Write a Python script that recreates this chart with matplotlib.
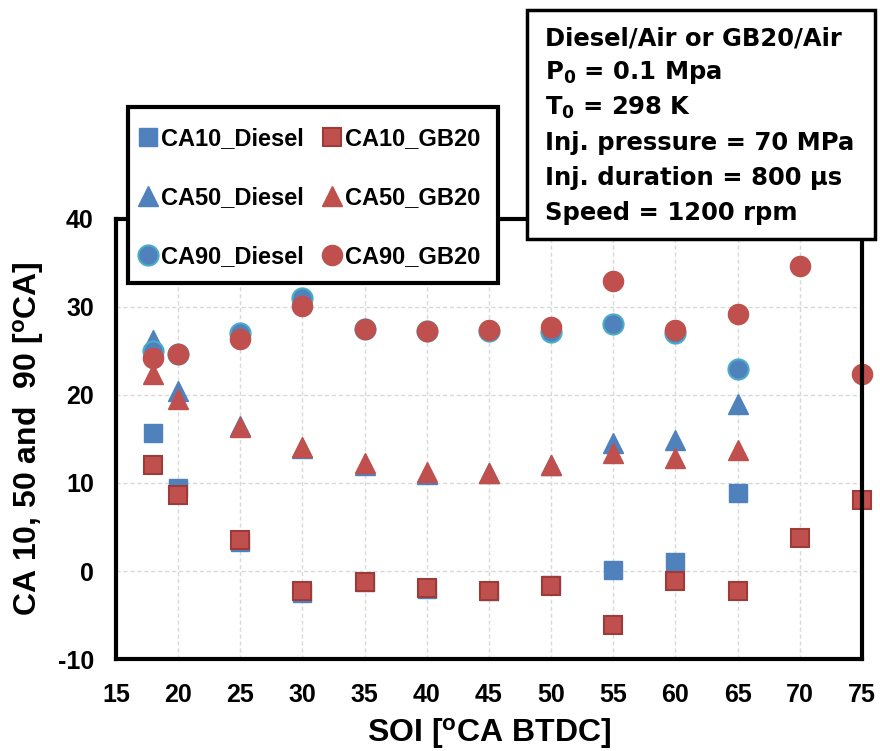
import matplotlib
matplotlib.use("Agg")
import matplotlib.pyplot as plt
from matplotlib.patches import Rectangle

plt.rcParams["font.family"] = ["Liberation Sans", "DejaVu Sans"]
plt.rcParams["font.weight"] = "bold"
plt.rcParams["mathtext.default"] = "regular"
plt.rcParams["axes.unicode_minus"] = False

# SOI [oCA BTDC]
soi_diesel = [18, 20, 25, 30, 35, 40, 45, 50, 55, 60, 65]
soi_gb20 = [18, 20, 25, 30, 35, 40, 45, 50, 55, 60, 65, 70, 75]
soi_ca50_gb20 = [18, 20, 25, 30, 35, 40, 45, 50, 55, 60, 65]

ca10_diesel = [15.7, 9.4, 3.3, -2.5, -1.2, -2.0, -2.3, -1.6, 0.1, 1.0, 8.9]
ca10_gb20 = [12.1, 8.6, 3.5, -2.3, -1.2, -1.9, -2.3, -1.7, -6.1, -1.1, -2.3, 3.7, 8.1]

ca50_diesel = [26.3, 20.5, 16.5, 14.0, 12.1, 11.0, 11.1, 12.0, 14.6, 14.9, 19.0]
ca50_gb20 = [22.4, 19.6, 16.4, 14.1, 12.3, 11.2, 11.1, 12.1, 13.4, 12.8, 13.7]

ca90_diesel = [25.0, 24.7, 27.0, 31.0, 27.5, 27.3, 27.3, 27.2, 28.1, 27.0, 23.0]
ca90_gb20 = [24.2, 24.7, 26.4, 30.1, 27.5, 27.3, 27.4, 27.7, 33.0, 27.4, 29.2, 34.7, 22.4]

info = ["Diesel/Air or GB20/Air", "P$_0$ = 0.1 Mpa", "T$_0$ = 298 K",
        "Inj. pressure = 70 MPa", "Inj. duration = 800 \u00b5s", "Speed = 1200 rpm"]

BLUE = "#4F81BD"
RED = "#C0504D"

fig = plt.figure(figsize=(8.8, 7.51), dpi=100)
ax = fig.add_axes([0.1318, 0.1225, 0.8477, 0.5859])

s10d, = ax.plot(soi_diesel, ca10_diesel, "s", ms=13.5, color=BLUE, mec=BLUE, mew=1, label="CA10_Diesel")
s10g, = ax.plot(soi_gb20, ca10_gb20, "s", ms=13.5, color=RED, mec="#9E3B38", mew=1.5, label="CA10_GB20")
s50d, = ax.plot(soi_diesel, ca50_diesel, "^", ms=15, color=BLUE, mec=BLUE, mew=1, label="CA50_Diesel")
s50g, = ax.plot(soi_ca50_gb20, ca50_gb20, "^", ms=15, color=RED, mec=RED, mew=1, label="CA50_GB20")
s90d, = ax.plot(soi_diesel, ca90_diesel, "o", ms=14.5, color=BLUE, mec="#4BACC6", mew=1.5, label="CA90_Diesel")
s90g, = ax.plot(soi_gb20, ca90_gb20, "o", ms=14.5, color=RED, mec=RED, mew=1, label="CA90_GB20")
for ln in (s10d, s10g, s50d, s50g, s90d, s90g):
    ln.set_clip_on(False)

ax.set_xlim(15, 75)
ax.set_ylim(-10, 40)
ax.set_xticks(range(15, 76, 5))
ax.set_yticks(range(-10, 41, 10))
ax.tick_params(length=0, labelsize=18)
ax.tick_params(axis="y", pad=16)
ax.tick_params(axis="x", pad=17)
for lab in ax.get_xticklabels() + ax.get_yticklabels():
    lab.set_fontweight("bold")
ax.grid(True, color="#D9D9D9", linestyle=(0, (3, 2)), linewidth=1)
ax.set_axisbelow(True)
for sp in ax.spines.values():
    sp.set_linewidth(3)
    sp.set_color("black")

ax.set_xlabel("SOI [$^o$CA BTDC]", fontsize=23, fontweight="bold", labelpad=7)
ax.set_ylabel("CA 10, 50 and  90 [$^o$CA]", fontsize=23, fontweight="bold", labelpad=8)

# legend frame drawn by hand so the padding can differ in x and y
fig.patches.append(Rectangle((128 / 880, 1 - 283 / 751), (498 - 128) / 880, (283 - 107) / 751,
                             transform=fig.transFigure, fc="white", ec="black", lw=3, zorder=10))
leg = fig.legend(
    handles=[s10d, s50d, s90d, s10g, s50g, s90g],
    ncol=2, loc="upper left",
    bbox_to_anchor=(141 / 880, 1 - 127 / 751),
    prop={"size": 17, "weight": "bold"},
    handlelength=0.6, handletextpad=0.25, columnspacing=0.9,
    labelspacing=1.52, borderpad=0, borderaxespad=0, frameon=False,
)
leg.set_zorder(11)

# condition box
fig.patches.append(Rectangle((527 / 880, 1 - 239 / 751), (875 - 527) / 880, (239 - 10) / 751,
                             transform=fig.transFigure, fc="white", ec="black", lw=2.5, zorder=10))
for i, line in enumerate(info):
    fig.text(545 / 880, 1 - (38 + i * 35) / 751, line, fontsize=17.5, fontweight="bold",
             family="DejaVu Sans", va="center", ha="left", zorder=11)

fig.savefig("out.png", dpi=100, facecolor="white")
